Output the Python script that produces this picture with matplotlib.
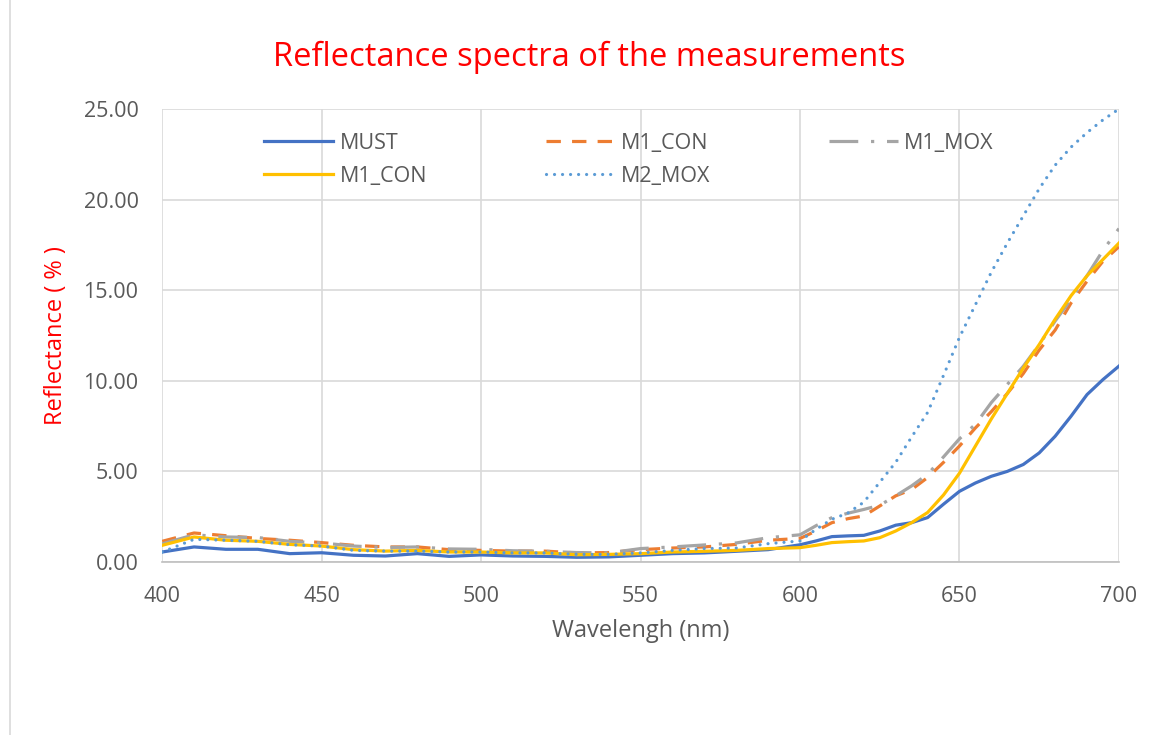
import matplotlib
matplotlib.use("Agg")
import matplotlib.pyplot as plt
from matplotlib.lines import Line2D

plt.rcParams['font.family'] = ['Open Sans', 'DejaVu Sans']

# wavelength grid (nm): every 10 nm up to 600, every 5 nm on the rising part
wavelength = [400, 410, 420, 430, 440, 450, 460, 470, 480, 490, 500,
              510, 520, 530, 540, 550, 560, 570, 580, 590, 600,
              605, 610, 615, 620, 625, 630, 635, 640, 645, 650,
              655, 660, 665, 670, 675, 680, 685, 690, 695, 700]

must = [0.55, 0.83, 0.70, 0.70, 0.46, 0.51, 0.37, 0.33, 0.46, 0.31, 0.39,
        0.33, 0.31, 0.26, 0.28, 0.37, 0.46, 0.50, 0.59, 0.68, 0.95,
        1.16, 1.40, 1.44, 1.47, 1.71, 2.03, 2.17, 2.45, 3.19, 3.90,
        4.36, 4.73, 5.00, 5.38, 6.02, 6.94, 8.05, 9.24, 10.07, 10.81]

m1_con = [1.14, 1.60, 1.45, 1.30, 1.20, 1.07, 0.92, 0.83, 0.83, 0.68, 0.64,
          0.60, 0.60, 0.50, 0.52, 0.68, 0.77, 0.83, 0.97, 1.20, 1.30,
          1.71, 2.17, 2.39, 2.54, 3.09, 3.65, 4.00, 4.66, 5.50, 6.40,
          7.40, 8.30, 9.30, 10.40, 11.70, 12.80, 14.30, 15.50, 16.60, 17.40]

m1_mox = [1.00, 1.50, 1.38, 1.35, 1.14, 1.05, 0.88, 0.80, 0.83, 0.72, 0.70,
          0.62, 0.59, 0.52, 0.50, 0.74, 0.83, 0.94, 1.05, 1.34, 1.50,
          2.00, 2.45, 2.69, 2.90, 3.13, 3.65, 4.20, 4.84, 5.80, 6.80,
          7.60, 8.80, 9.80, 10.80, 12.00, 13.30, 14.50, 15.80, 17.20, 18.40]

m1_con_b = [0.92, 1.38, 1.20, 1.14, 0.97, 0.88, 0.68, 0.60, 0.64, 0.55, 0.55,
            0.50, 0.50, 0.40, 0.42, 0.46, 0.55, 0.59, 0.64, 0.74, 0.79,
            0.92, 1.07, 1.12, 1.16, 1.34, 1.71, 2.17, 2.73, 3.70, 4.90,
            6.40, 7.90, 9.30, 10.70, 12.00, 13.40, 14.70, 15.80, 16.70, 17.60]

m2_mox = [0.55, 1.25, 1.20, 1.14, 0.95, 0.88, 0.64, 0.60, 0.60, 0.55, 0.55,
          0.50, 0.50, 0.42, 0.42, 0.50, 0.64, 0.74, 0.77, 1.01, 1.16,
          1.80, 2.36, 2.70, 3.30, 4.40, 5.50, 6.90, 8.25, 10.30, 12.40,
          14.20, 16.00, 17.60, 19.10, 20.60, 21.90, 22.90, 23.70, 24.40, 25.00]

fig = plt.figure(figsize=(11.5, 7.35), dpi=100)
ax = fig.add_axes([0.141, 0.2354, 0.832, 0.6163])

lw = 2.3
l_must, = ax.plot(wavelength, must, color='#4472C4', lw=lw, label='MUST')
l_con, = ax.plot(wavelength, m1_con, color='#ED7D31', lw=lw, ls=(0, (4.5, 3.5)), label='M1_CON')
l_mox, = ax.plot(wavelength, m1_mox, color='#A5A5A5', lw=lw, ls=(0, (9, 4, 1, 4)), label='M1_MOX')
l_con_b, = ax.plot(wavelength, m1_con_b, color='#FFC000', lw=lw, label='M1_CON')
l_m2, = ax.plot(wavelength, m2_mox, color='#5B9BD5', lw=lw, ls=(0, (0.01, 2.5)),
                dash_capstyle='round', label='M2_MOX')

ax.set_xlim(400, 700)
ax.set_ylim(0, 25)
ax.set_xticks(range(400, 701, 50))
ax.set_yticks([0, 5, 10, 15, 20, 25])
ax.set_yticklabels(['%.2f' % v for v in [0, 5, 10, 15, 20, 25]])
ax.grid(True, color='#d9d9d9', lw=1.2)
ax.set_axisbelow(True)
for s in ['top', 'right', 'left']:
    ax.spines[s].set_visible(False)
ax.spines['bottom'].set_color('#bfbfbf')
ax.spines['bottom'].set_linewidth(1.2)
ax.tick_params(length=0, labelsize=15.5, labelcolor='#595959')
ax.tick_params(axis='x', pad=17)
ax.tick_params(axis='y', pad=17)

ax.set_xlabel('Wavelengh (nm)', fontsize=17, color='#595959', labelpad=9)
ax.set_ylabel('Reflectance ( % )', fontsize=17, color='red', labelpad=11)
fig.suptitle('Reflectance spectra of the measurements', fontsize=23.5, color='red',
             x=0.512, y=0.945)

# excel lays legend out row-wise, matplotlib column-wise
handles = [l_must, l_con_b, l_con, l_m2, l_mox]
ax.legend(handles, [h.get_label() for h in handles], ncol=3, frameon=False,
          loc='upper center', bbox_to_anchor=(0.488, 0.99), fontsize=15.5,
          labelcolor='#595959', handlelength=3.2, handletextpad=0.3,
          columnspacing=5.5, labelspacing=0.55)

# chart area border on the left
fig.add_artist(Line2D([10 / 1150, 10 / 1150], [0, 1], color='#d9d9d9', lw=1.2,
                      transform=fig.transFigure))

fig.savefig('out.png', dpi=100)
